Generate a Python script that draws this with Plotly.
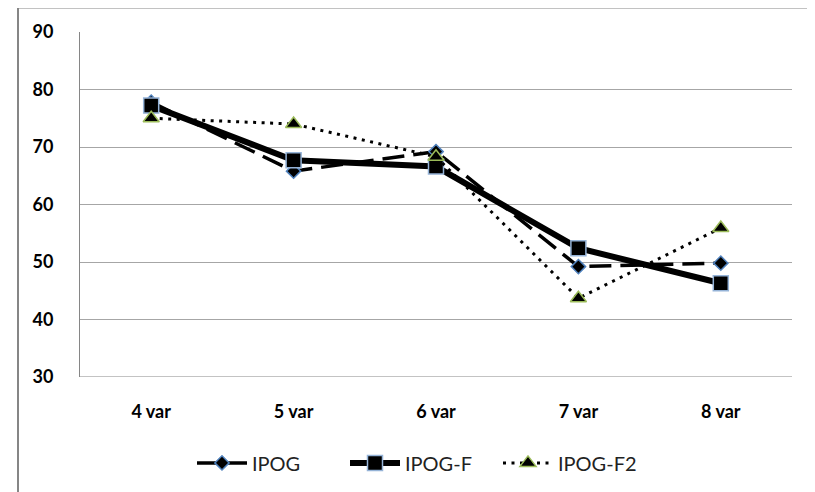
import plotly.graph_objects as go

categories = ["4 var", "5 var", "6 var", "7 var", "8 var"]
ipog = [77.8, 65.8, 69.2, 49.2, 49.8]
ipog_f = [77.2, 67.7, 66.6, 52.4, 46.3]
ipog_f2 = [75.0, 74.0, 68.3, 43.7, 55.9]
y_ticks = [30, 40, 50, 60, 70, 80, 90]

# figure is drawn inside the page's 8px body margin
W, H = 807, 484
L, R, T, B = 72, 23, 23.5, 115
pw, ph = W - L - R, H - T - B

fig = go.Figure()
fig.add_trace(go.Scatter(
    x=categories, y=ipog, name="IPOG", mode="lines+markers",
    line=dict(color="black", width=3.5, dash="22px,9px"),
    marker=dict(symbol="diamond", size=11, color="black",
                line=dict(color="#4F81BD", width=1.5))))
fig.add_trace(go.Scatter(
    x=categories, y=ipog_f, name="IPOG-F", mode="lines+markers",
    line=dict(color="black", width=6),
    marker=dict(symbol="square", size=15, color="black",
                line=dict(color="#95B3D7", width=1.5))))
fig.add_trace(go.Scatter(
    x=categories, y=ipog_f2, name="IPOG-F2", mode="lines+markers",
    line=dict(color="black", width=3, dash="3px,5.5px"),
    marker=dict(symbol="triangle-up", size=14, color="black",
                line=dict(color="#9BBB59", width=1.5))))

tickfont = dict(family="Lato, sans-serif", size=18, weight="bold", color="black")

fig.update_layout(
    width=W, height=H,
    margin=dict(l=L, r=R, t=T, b=B, autoexpand=False),
    paper_bgcolor="white", plot_bgcolor="white",
    font=dict(family="Lato, Open Sans, sans-serif", size=18, color="black"),
    showlegend=True,
    legend=dict(orientation="h", x=(192 - 8 - L) / pw, xanchor="left",
                y=-(463 - 8 - (H - B)) / ph, yanchor="middle",
                font=dict(size=20, color="#222"), itemwidth=50,
                entrywidth=88, entrywidthmode="pixels",
                traceorder="normal"),
    xaxis=dict(range=[-0.5, 4.5], showgrid=False, showline=False, zeroline=False,
               ticks="", ticklabelstandoff=22, tickfont=tickfont),
    yaxis=dict(range=[30, 90], tickvals=y_ticks, showgrid=True,
               gridcolor="#A6A6A6", gridwidth=1, zeroline=False,
               showline=True, linecolor="#868686", linewidth=1,
               ticks="", ticklabelstandoff=22, tickfont=tickfont),
    shapes=[
        dict(type="line", xref="paper", yref="y", x0=0, x1=1, y0=30, y1=30,
             line=dict(color="#868686", width=1)),
        dict(type="rect", xref="paper", yref="paper",
             x0=(10 - L) / pw, x1=(802 - L) / pw,
             y0=-(H + 10 - (H - B)) / ph, y1=(H - B) / ph + 1 / ph,
             line=dict(color="#868686", width=2), fillcolor="rgba(0,0,0,0)",
             layer="below"),
    ],
)

fig.write_html("out.html")
